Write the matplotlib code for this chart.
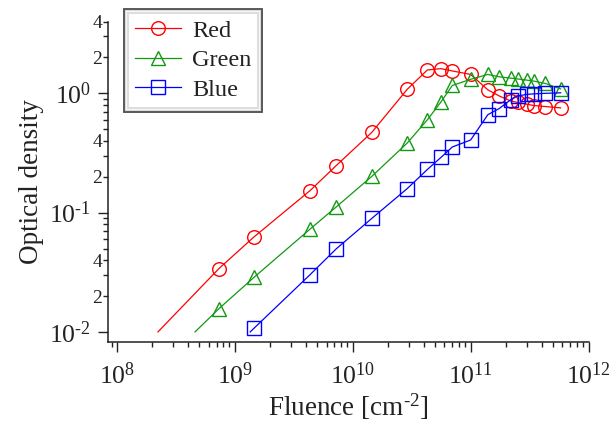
import matplotlib
matplotlib.use("Agg")
import matplotlib.pyplot as plt
import matplotlib.ticker as mticker
import matplotlib.patheffects as pe
import numpy as np

plt.rcParams['font.family'] = ['Liberation Serif', 'DejaVu Serif']
plt.rcParams['mathtext.fontset'] = 'custom'
plt.rcParams['mathtext.rm'] = 'Liberation Serif'
plt.rcParams['mathtext.it'] = 'Liberation Serif:italic'
plt.rcParams['mathtext.bf'] = 'Liberation Serif:bold'

# ---- data ----
fluence = [7.3e8, 1.45e9, 4.35e9, 7.25e9, 1.45e10, 2.9e10, 4.3e10, 5.6e10, 7.0e10,
           1.0e11, 1.4e11, 1.75e11, 2.2e11, 2.5e11, 3.0e11, 3.45e11, 4.3e11, 5.8e11]
red = [0.0338, 0.0624, 0.153, 0.248, 0.470, 1.08, 1.57, 1.61, 1.54,
       1.44, 1.07, 0.95, 0.86, 0.84, 0.81, 0.79, 0.775, 0.755]
green = [0.0156, 0.0286, 0.0728, 0.1116, 0.201, 0.383, 0.600, 0.846, 1.164,
         1.31, 1.44, 1.375, 1.34, 1.32, 1.29, 1.265, 1.21, 1.09]
blue_fluence = fluence[1:]
blue = [0.0107, 0.0302, 0.0497, 0.0893, 0.159, 0.230, 0.290, 0.355,
        0.406, 0.662, 0.746, 0.887, 0.949, 0.980, 0.990, 1.000, 1.010]
# extrapolated start of each fitted line (no marker)
line_start_x = {'Red': 2.23e8, 'Green': 4.6e8, 'Blue': 1.35e9}
line_start_y = 0.01

series = [('Red', fluence, red, 'o', '#ff0000'),
          ('Green', fluence, green, '^', '#119911'),
          ('Blue', blue_fluence, blue, 's', '#0000ff')]

y_minor_labels = {2: '2', 4: '4'}

# ---- figure ----
W, H = 612, 421
fig = plt.figure(figsize=(W / 100, H / 100), dpi=100)
ax = fig.add_axes([108 / W, 1 - 341.7 / H, 480.5 / W, 320.2 / H])

ink = '#222222'
for name, xs, ys, mk, col in series:
    lx = [line_start_x[name]] + list(xs)
    ly = [line_start_y] + list(ys)
    ax.plot(lx, ly, color=col, lw=0.9, marker=mk, markersize=9.8,
            markerfacecolor='none', markeredgecolor=col, markeredgewidth=1.0,
            markevery=slice(1, None), label=name, clip_on=False)

ax.set_xscale('log')
ax.set_yscale('log')
ax.set_xlim(10 ** 7.9245, 1e12)
ax.set_ylim(10 ** -2.082, 4)

for s in ['top', 'right']:
    ax.spines[s].set_visible(False)
for s in ['left', 'bottom']:
    ax.spines[s].set_linewidth(1.1)
    ax.spines[s].set_color(ink)


def pow_fmt(v, pos):
    e = int(round(np.log10(v)))
    es = ('\\text{-}%d' % -e) if e < 0 else '%d' % e
    return '$10^{%s}$' % es


ax.xaxis.set_major_locator(mticker.LogLocator(base=10, numticks=10))
ax.xaxis.set_major_formatter(mticker.FuncFormatter(pow_fmt))
ax.xaxis.set_minor_locator(mticker.LogLocator(base=10, subs=np.arange(2, 10), numticks=20))
ax.xaxis.set_minor_formatter(mticker.NullFormatter())
ax.yaxis.set_major_locator(mticker.FixedLocator([1e-2, 1e-1, 1e0]))
ax.yaxis.set_major_formatter(mticker.FuncFormatter(pow_fmt))
ymin_ticks = [m * 10.0 ** e for e in (-2, -1, 0) for m in range(2, 10) if m * 10.0 ** e <= 4.0001]
ax.yaxis.set_minor_locator(mticker.FixedLocator(ymin_ticks))


def minor_fmt(v, pos):
    e = np.floor(np.log10(v) + 1e-9)
    m = int(round(v / 10 ** e))
    return y_minor_labels.get(m, '')


ax.yaxis.set_minor_formatter(mticker.FuncFormatter(minor_fmt))

ax.tick_params(axis='both', which='major', direction='out', length=7, width=1.0,
               color=ink, labelcolor=ink, labelsize=18.5)
ax.tick_params(axis='both', which='minor', direction='out', length=3.8, width=1.0,
               color=ink, labelcolor=ink)
ax.tick_params(axis='y', which='minor', labelsize=14, pad=0.5)
ax.tick_params(axis='y', which='major', pad=5)
ax.tick_params(axis='x', which='major', pad=8)

ax.set_xlabel('Fluence [cm$^{\\text{-}2}$]', fontsize=19.5, color=ink, labelpad=2)
ax.set_ylabel('Optical density', fontsize=19.5, color=ink, labelpad=4)

leg = ax.legend(loc='upper left', bbox_to_anchor=(125.5 / W, 1 - 10.5 / H),
                bbox_transform=fig.transFigure, fontsize=17.5, frameon=True,
                fancybox=False, handlelength=1.9, handletextpad=0.45,
                borderpad=0.38, labelspacing=0.31, borderaxespad=0)
for t in leg.get_texts():
    t.set_color(ink)
fr = leg.get_frame()
fr.set_edgecolor(ink)
fr.set_linewidth(1.0)
fr.set_facecolor('white')
fr.set_path_effects([pe.Stroke(linewidth=4.2, foreground=ink),
                     pe.Stroke(linewidth=1.6, foreground='white')])

fig.savefig('out.png', dpi=100)
